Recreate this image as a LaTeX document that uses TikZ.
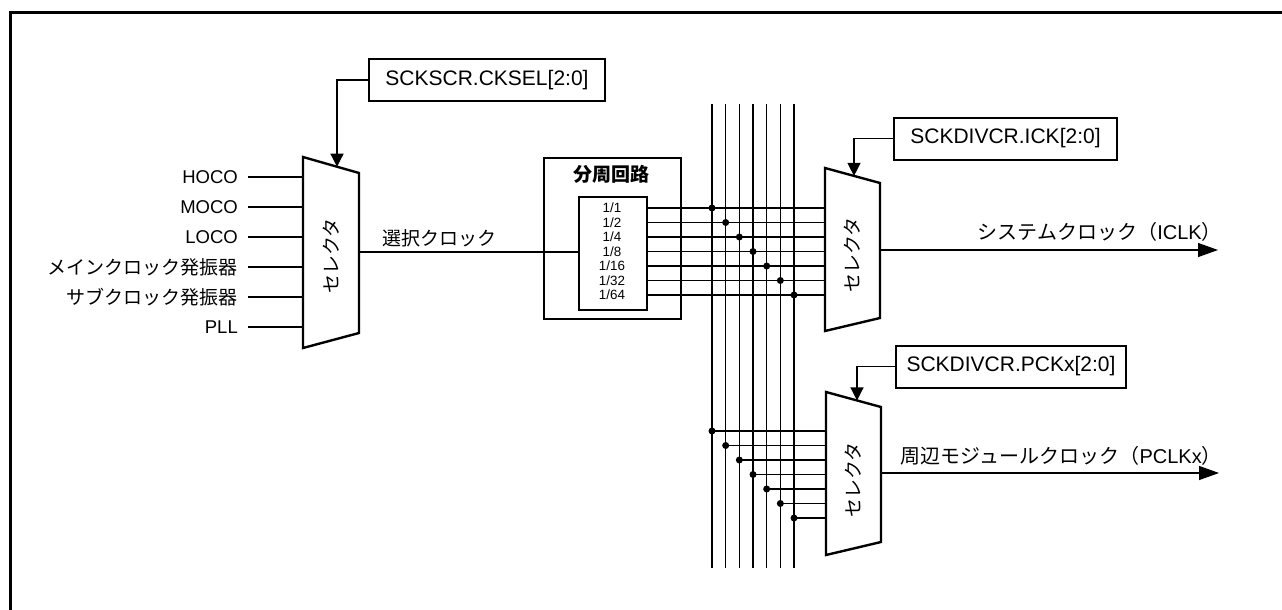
\documentclass[tikz,border=0pt]{standalone}
\usepackage{fontspec}
\setmainfont{Liberation Sans}
\newfontfamily\jp{Noto Sans CJK JP}
\usetikzlibrary{arrows.meta,calc}
\begin{document}
\begin{tikzpicture}[x=1pt,y=-1pt,
  thinl/.style={line width=1.3pt},
  thickl/.style={line width=2.4pt, line join=miter},
  lbl/.style={inner sep=0pt, font=\fontsize{18.5}{20}\selectfont},
  jlbl/.style={inner sep=0pt, font=\fontsize{19}{20}\selectfont\jp},
  outlbl/.style={inner sep=0pt, font=\fontsize{20}{22}\selectfont\jp},
  ratio/.style={inner sep=0pt, font=\fontsize{13.4}{14}\selectfont},
  regbox/.style={draw, line width=2pt, inner sep=0pt, minimum height=42pt, font=\fontsize{21}{24}\selectfont},
  ctl/.style={thinl, -{Triangle[length=13pt,width=13pt]}},
  outarr/.style={thinl, -{Triangle[length=20pt,width=14pt]}},
  jdot/.style={circle, fill, inner sep=0pt, minimum size=7pt},
]
\useasboundingbox (0,0) rectangle (1282,610);
% frame
\draw[line width=3pt] (10.5,610) -- (10.5,12.5) -- (1282,12.5);

% ---------- first selector ----------
\draw[thickl] (303,157) coordinate (m1tl) -- (359,173) coordinate (m1tr)
  -- (359,333) coordinate (m1br) -- (303,348) coordinate (m1bl) -- cycle;
\node[jlbl, rotate=90] (m1txt) at (331,256) {セレクタ};

\node[lbl, anchor=east] (hoco) at (238,177) {HOCO};
\node[lbl, anchor=east] (moco) at (238,207) {MOCO};
\node[lbl, anchor=east] (loco) at (238,237) {LOCO};
\node[jlbl, anchor=east] (main) at (238,267) {メインクロック発振器};
\node[jlbl, anchor=east] (sub) at (238,297) {サブクロック発振器};
\node[lbl, anchor=east] (pll) at (238,327) {PLL};
\foreach \n in {hoco,moco,loco,main,sub,pll}
  \draw[thinl] ([xshift=10pt]\n.east) -- (\n.east -| m1tl);

\node[regbox, minimum width=236pt] (ckselbox) at (487,80) {SCKSCR.CKSEL[2:0]};
\coordinate (t1) at (intersection of 337,0--337,600 and m1tl--m1tr);
\draw[ctl] (ckselbox.west) -| (t1);

% ---------- divider ----------
\node[draw, thickl, minimum width=137pt, minimum height=161pt, inner sep=0pt, anchor=north west] (div) at (543,157) {};
\node[jlbl, font=\fontsize{19}{20}\selectfont\jp\bfseries] (divtitle) at (611.5,174) {分周回路};
\node[draw, thickl, minimum width=68pt, minimum height=113pt, inner sep=0pt, anchor=north west] (ratios) at (578,196) {};
\node[ratio] (r1) at (612,208) {1/1};
\node[ratio] (r2) at (612,222.5) {1/2};
\node[ratio] (r3) at (612,237) {1/4};
\node[ratio] (r4) at (612,251.5) {1/8};
\node[ratio] (r5) at (612,266) {1/16};
\node[ratio] (r6) at (612,280.5) {1/32};
\node[ratio] (r7) at (612,295) {1/64};

\draw[thinl] (m1tr |- 0,252) coordinate (m1out) -- (ratios.west |- m1out);
\node[jlbl, anchor=west] (seltxt) at (382,238) {選択クロック};

% ---------- bus ----------
\foreach \i in {0,...,6}
  \draw[thinl] ({712+13.67*\i},104) coordinate (bt\i) -- ({712+13.67*\i},568) coordinate (bb\i);

% ---------- second selector ----------
\draw[thickl] (825,168) coordinate (m2tl) -- (880,183) coordinate (m2tr)
  -- (880,318) coordinate (m2br) -- (825,331) coordinate (m2bl) -- cycle;
\node[jlbl, rotate=90] (m2txt) at (852.5,255) {セレクタ};
\foreach \i in {0,...,6} {
  \coordinate (ra\i) at (646,{208+14.5*\i});
  \draw[thinl] (ra\i) -- (ra\i -| m2tl);
  \node[jdot] (da\i) at (bt\i |- ra\i) {};
}
\node[regbox, minimum width=223pt] (ickbox) at (1005.5,138.5) {SCKDIVCR.ICK[2:0]};
\coordinate (t2) at (intersection of 854,0--854,600 and m2tl--m2tr);
\draw[ctl] (ickbox.west) -| (t2);
\coordinate (o2) at (1218,250);
\draw[outarr] (m2tr |- o2) -- (o2);
\node[outlbl, anchor=east] (iclk) at (1222,232) {システムクロック（{\rmfamily ICLK}）};

% ---------- third selector ----------
\draw[thickl] (826,392) coordinate (m3tl) -- (881,407) coordinate (m3tr)
  -- (881,542) coordinate (m3br) -- (826,555) coordinate (m3bl) -- cycle;
\node[jlbl, rotate=90] (m3txt) at (853.5,480) {セレクタ};
\foreach \i in {0,...,6} {
  \node[jdot] (db\i) at (bt\i |- 0,{431+14.5*\i}) {};
  \draw[thinl] (db\i.center) -- (db\i.center -| m3tl);
}
\node[regbox, minimum width=230pt] (pckbox) at (1011,366.5) {SCKDIVCR.PCKx[2:0]};
\coordinate (t3) at (intersection of 857,0--857,600 and m3tl--m3tr);
\draw[ctl] (pckbox.west) -| (t3);
\coordinate (o3) at (1219,473);
\draw[outarr] (m3tr |- o3) -- (o3);
\node[outlbl, anchor=east] (pclk) at (1222,456) {周辺モジュールクロック（{\rmfamily PCLKx}）};
\end{tikzpicture}
\end{document}
